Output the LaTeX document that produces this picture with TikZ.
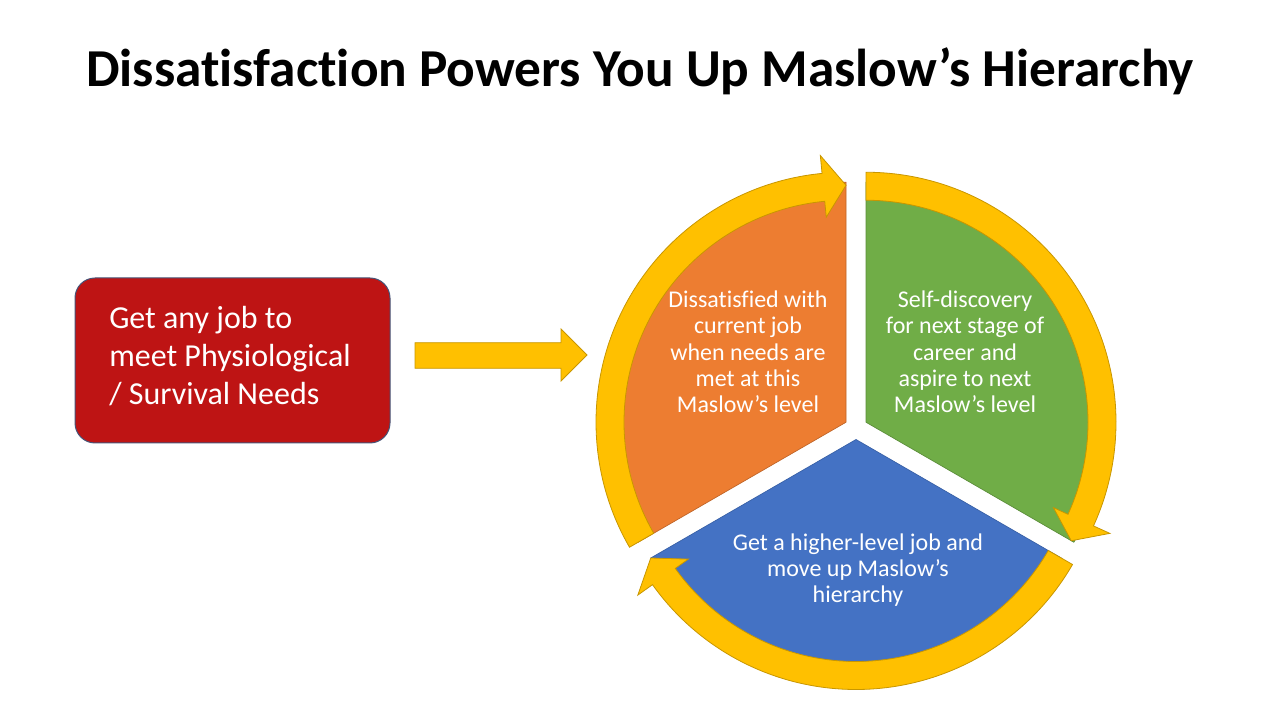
\documentclass[tikz,border=0pt]{standalone}
\usepackage{fontspec}
\setmainfont{Carlito}[Ligatures=NoCommon]
\usetikzlibrary{calc}
\definecolor{boxred}{RGB}{190,20,20}
\definecolor{boxedge}{RGB}{70,84,120}
\definecolor{orng}{RGB}{237,125,49}
\definecolor{orngedge}{RGB}{190,100,40}
\definecolor{grn}{RGB}{112,173,71}
\definecolor{grnedge}{RGB}{90,140,57}
\definecolor{blu}{RGB}{68,114,196}
\definecolor{bluedge}{RGB}{55,95,165}
\definecolor{yel}{RGB}{255,192,0}
\definecolor{yeledge}{RGB}{200,150,0}
\tikzset{
  slicetext/.style={text=white, align=center, font=\fontsize{18}{19.7}\selectfont, inner sep=0pt},
  ringarrow/.style={fill=yel, draw=yeledge, line width=0.6pt, line join=miter},
  slicefill/.style={line width=0.5pt},
}
\newcommand\cycarrow[3]{%
  \pgfmathsetmacro\hb{#3+5.5}%
  \path[ringarrow] ($(#1)+(#2:250)$) arc[start angle=#2, end angle=\hb, radius=250]
    -- ($(#1)+(\hb:268)$) -- ($(#1)+(#3:237)$) -- ($(#1)+(\hb:206)$)
    -- ($(#1)+(\hb:222)$) arc[start angle=\hb, end angle=#2, radius=222] -- cycle;}
\begin{document}
\begin{tikzpicture}[x=0.75pt,y=0.75pt]
\useasboundingbox (0,0) rectangle (1280,720);
% title
\node[anchor=base, font=\fontsize{40}{48}\selectfont\bfseries] (title) at (640,633)
  {Dissatisfaction Powers You Up Maslow’s Hierarchy};
% left box
\node[draw=boxedge, fill=boxred, rounded corners=15pt, line width=0.75pt,
  minimum width=236.25pt, minimum height=123.75pt] (box) at (232.5,359.5) {};
\node[anchor=west, align=left, text=white, font=\fontsize{24}{28.8}\selectfont, inner sep=0pt]
  (boxtext) at (109,364) {Get any job to\\meet Physiological\\/ Survival Needs};
% block arrow
\path[ringarrow] (415,377.3) -- (561,377.3) -- (561,391) -- (587,365) -- (561,339)
  -- (561,351.7) -- (415,351.7) -- cycle;
% slice centres
\coordinate (O1) at (846,297.75);
\coordinate (O2) at (866,297.75);
\coordinate (O3) at (856,280.5);
% slices
\path[slicefill, fill=orng, draw=orngedge] (O1) -- ++(90:240) arc[start angle=90, end angle=210, radius=240] -- cycle;
\path[slicefill, fill=grn, draw=grnedge] (O2) -- ++(-30:240) arc[start angle=-30, end angle=90, radius=240] -- cycle;
\path[slicefill, fill=blu, draw=bluedge] (O3) -- ++(210:237) arc[start angle=210, end angle=330, radius=237] -- cycle;
% ring arrows
\cycarrow{O1}{210}{90}
\cycarrow{O2}{90}{-30}
\cycarrow{O3}{330}{210}
% slice texts
\node[slicetext] (t1) at (748,368) {Dissatisfied with\\current job\\when needs are\\met at this\\Maslow’s level};
\node[slicetext] (t2) at (965,368) {Self-discovery\\for next stage of\\career and\\aspire to next\\Maslow’s level};
\node[slicetext] (t3) at (858,150) {Get a higher-level job and\\move up Maslow’s\\hierarchy};
\end{tikzpicture}
\end{document}
